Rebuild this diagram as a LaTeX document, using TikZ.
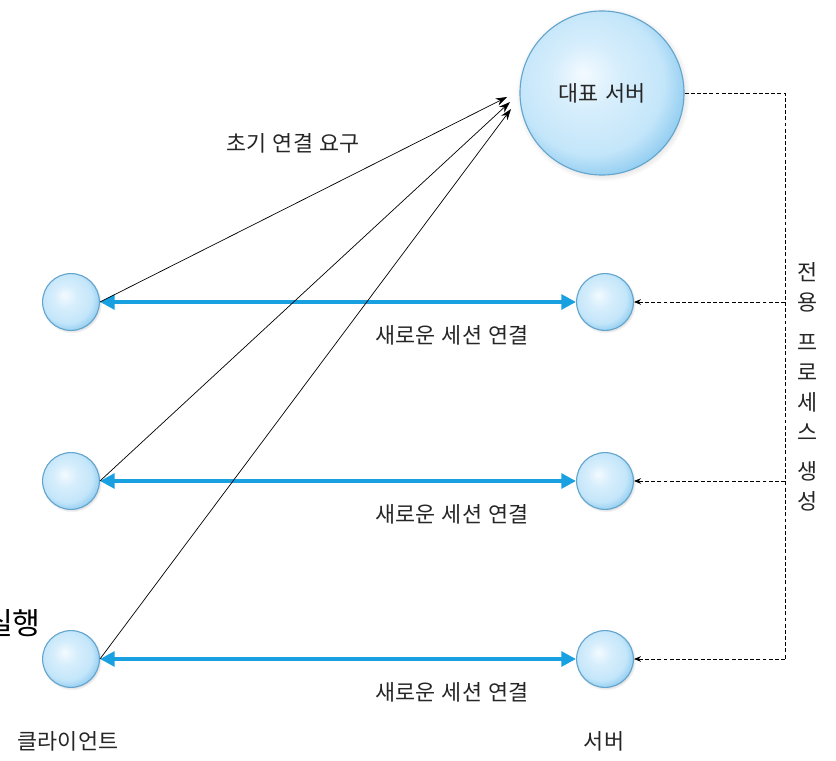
\documentclass[tikz,border=0pt]{standalone}
\usepackage{fontspec}
\newfontfamily\kr{Noto Sans CJK KR}
\newcommand\krfont[1]{\kr\fontsize{#1}{21.3}\selectfont\spaceskip=0.3em\relax}
\usetikzlibrary{arrows.meta,shadows}
\definecolor{bubhi}{RGB}{243,250,255}
\definecolor{bubmid}{RGB}{196,230,250}
\definecolor{bubedge}{RGB}{128,196,237}
\definecolor{bubline}{RGB}{100,165,205}
\definecolor{linkblue}{RGB}{24,160,225}
\pgfdeclareradialshading{bubble}{\pgfpoint{-6bp}{6bp}}{color(0bp)=(bubhi); color(10bp)=(bubhi!40!bubmid); color(22bp)=(bubmid); color(31bp)=(bubedge); color(50bp)=(bubedge)}

\begin{document}
\begin{tikzpicture}[
  x=0.025cm, y=-0.025cm,
  bub/.style={circle, draw=bubline, line width=0.8pt, shading=bubble, minimum size=1.42cm,
    circular drop shadow={shadow xshift=0.6pt, shadow yshift=-0.8pt, shadow scale=1.06, opacity=0.35}},
  lbl/.style={font=\krfont{15.5}, text=black!85, inner sep=1pt},
  link/.style={draw=linkblue, line width=2.8pt, {Triangle[length=10.5pt,width=10.5pt]}-{Triangle[length=10.5pt,width=10.5pt]}},
  req/.style={line width=0.5pt, -{Stealth[length=8pt,width=5.5pt]}},
  dline/.style={line width=0.6pt, dash pattern=on 2.8pt off 1.6pt},
  darrow/.style={dline, -{Stealth[length=5pt,width=4pt]}}]
  \useasboundingbox (0,0) rectangle (836,761);

  \node[bub, minimum size=4.1cm, lbl] (rep) at (602,93) {대표 서버};
  \foreach \i/\y in {1/302,2/481,3/659} {
    \node[bub] (c\i) at (71,\y) {};
    \node[bub] (s\i) at (605,\y) {};
    \draw[link] (c\i) -- (s\i);
    \node[lbl] (new\i) at (452,{\y+33}) {새로운 세션 연결};
  }

  % 초기 연결 요구: 클라이언트에서 대표 서버로
  \coordinate (t1) at (507,97);
  \coordinate (t2) at (510,102);
  \coordinate (t3) at (511,109);
  \foreach \i in {1,2,3}
    \draw[req] (c\i.east) -- (t\i);
  \node[lbl] (init) at (293,143) {초기 연결 요구};

  % 전용 프로세스 생성
  \coordinate (bus) at (785,93);
  \draw[dline] (rep.east) -- (bus) -- (bus |- s3.east);
  \foreach \i in {1,2,3}
    \draw[darrow] (bus |- s\i.east) -- (s\i.east);
  \node[lbl, align=center] (spawn) at (808,387) {전\\용\\[7pt]프\\로\\세\\스\\[7pt]생\\성};

  \node[lbl] (client) at (68,741) {클라이언트};
  \node[lbl] (server) at (604,741) {서버};
  \node[lbl, font=\krfont{21.5}, text=black] (run) at (13,623) {실행};
\end{tikzpicture}
\end{document}
